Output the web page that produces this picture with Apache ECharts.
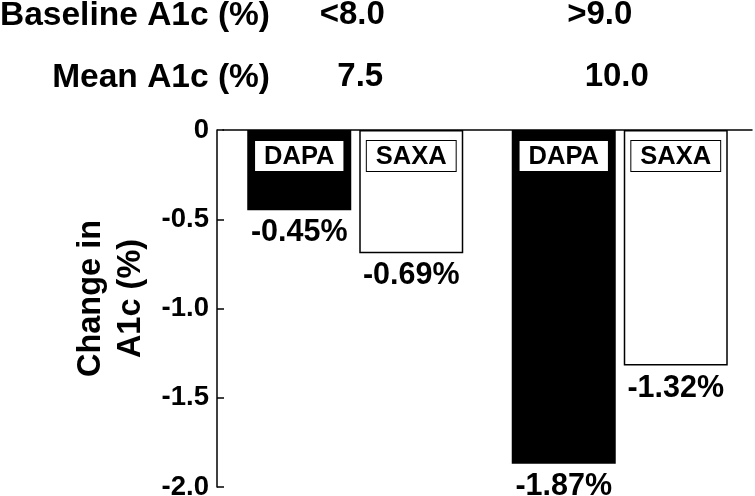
<!DOCTYPE html>
<html><head><meta charset="utf-8">
<script src="https://cdn.jsdelivr.net/npm/echarts@6/dist/echarts.min.js"></script>
<style>html,body{margin:0;padding:0;background:#fff}#c{width:755px;height:496px}</style>
</head><body><div id="c"></div>
<script>
// Data
const categories = ['<8.0', '>9.0'];   // Baseline A1c (%)
const meanA1c = ['7.5', '10.0'];       // Mean A1c (%)
const seriesNames = ['DAPA', 'SAXA'];
const dapa = [-0.45, -1.87];
const saxa = [-0.69, -1.32];
const yMin = -2.0, yMax = 0, yStep = 0.5;

const FONT = '"Liberation Sans", Arial, sans-serif';
const chart = echarts.init(document.getElementById('c'), null, { renderer: 'canvas' });

const valueLabel = {
  show: true, position: 'outside', distance: 7,
  formatter: p => p.value.toFixed(2) + '%',
  fontFamily: FONT, fontWeight: 'bold', fontSize: 30.5, color: '#000'
};
const nameLabel = {
  show: true, position: 'insideTop', distance: 11,
  formatter: p => p.seriesName,
  fontFamily: FONT, fontWeight: 'bold', fontSize: 25.5, color: '#000',
  backgroundColor: '#fff', borderColor: '#000', borderWidth: 1,
  padding: [2, 9, 1, 9], lineHeight: 27
};
const barCommon = { type: 'bar', barWidth: 104, barGap: '7.7%', animation: false };

// per-label horizontal nudges (rich padding)
const meanRich = { m0: { padding: [0, 0, 0, 10] }, m1: { padding: [0, 6, 0, 0] } };
const baseRich = { b0: { padding: [0, 6, 0, 0] }, b1: { padding: [0, 40, 0, 0] } };

chart.setOption({
  animation: false,
  grid: { left: 223, right: 3, top: 130, bottom: 9, containLabel: false, outerBoundsMode: 'none' },
  xAxis: [
    {
      type: 'category', data: categories, position: 'top',
      axisLine: { onZero: false, lineStyle: { color: '#000', width: 1.5 } },
      axisTick: { show: false },
      axisLabel: {
        margin: 35, fontFamily: FONT, fontWeight: 'bold', fontSize: 33, color: '#000', lineHeight: 36,
        formatter: (v, i) => '{m' + i + '|' + meanA1c[i] + '}',
        rich: meanRich
      }
    },
    {
      type: 'category', data: categories, position: 'top',
      axisLine: { show: false, onZero: false }, axisTick: { show: false },
      axisLabel: {
        margin: 97, fontFamily: FONT, fontWeight: 'bold', fontSize: 33, color: '#000', lineHeight: 36,
        formatter: (v, i) => '{b' + i + '|' + v + '}',
        rich: baseRich
      }
    }
  ],
  yAxis: {
    type: 'value', min: yMin, max: yMax, interval: yStep, offset: 6,
    name: 'Change in\nA1c (%)', nameLocation: 'middle', nameRotate: 90, nameGap: 57,
    nameTextStyle: { fontFamily: FONT, fontWeight: 'bold', fontSize: 32.5, color: '#000', lineHeight: 40, padding: [0, 0, 0, 20] },
    axisLine: { show: true, onZero: false, lineStyle: { color: '#000', width: 1.5 } },
    axisTick: { show: true, inside: true, length: 7, lineStyle: { color: '#000', width: 1.5 } },
    splitLine: { show: false },
    axisLabel: {
      margin: 8, fontFamily: FONT, fontWeight: 'bold', fontSize: 27.5, color: '#000',
      formatter: v => (v === 0 ? '0' : v.toFixed(1))
    }
  },
  series: [
    Object.assign({}, barCommon, { name: seriesNames[0], xAxisIndex: 0, data: dapa,
      itemStyle: { color: '#000' }, label: valueLabel }),
    Object.assign({}, barCommon, { name: seriesNames[1], xAxisIndex: 0, data: saxa,
      itemStyle: { color: '#fff', borderColor: '#000', borderWidth: 1.5 }, label: valueLabel }),
    Object.assign({}, barCommon, { name: seriesNames[0], xAxisIndex: 1, data: dapa, z: 5, silent: true,
      itemStyle: { color: 'rgba(0,0,0,0)' }, label: nameLabel }),
    Object.assign({}, barCommon, { name: seriesNames[1], xAxisIndex: 1, data: saxa, z: 5, silent: true,
      itemStyle: { color: 'rgba(0,0,0,0)' }, label: nameLabel })
  ],
  graphic: [
    { type: 'text', x: 270, y: 16, style: { text: 'Baseline A1c (%)', align: 'right', verticalAlign: 'middle',
      fontFamily: FONT, fontWeight: 'bold', fontSize: 33.5, fill: '#000' } },
    { type: 'text', x: 270, y: 78, style: { text: 'Mean A1c (%)', align: 'right', verticalAlign: 'middle',
      fontFamily: FONT, fontWeight: 'bold', fontSize: 33.5, fill: '#000' } }
  ]
});
</script></body></html>
